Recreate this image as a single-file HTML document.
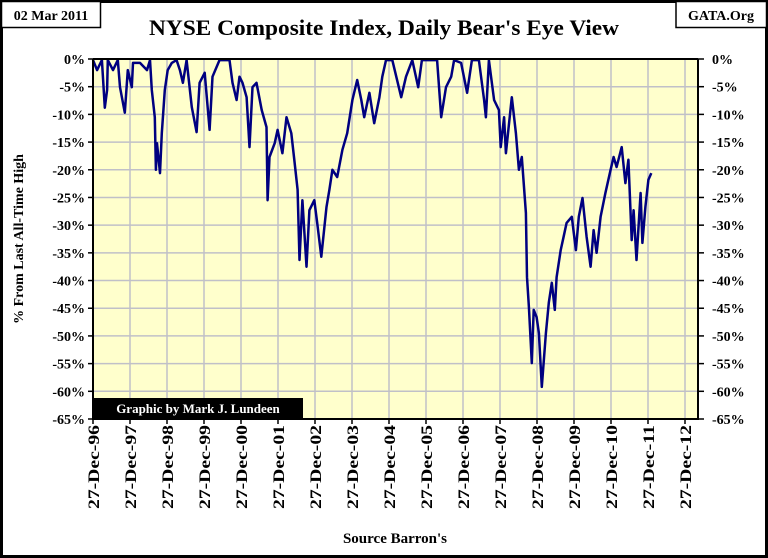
<!DOCTYPE html>
<html><head><meta charset="utf-8"><style>
html,body{margin:0;padding:0;background:#fff}
svg{display:block;font-family:"Liberation Serif",serif}
</style></head><body>
<svg width="768" height="558" viewBox="0 0 768 558">
<rect x="1.5" y="1.5" width="765" height="555" fill="#fff" stroke="#000" stroke-width="3"/>
<rect x="1.5" y="1.5" width="99" height="26" fill="#fff" stroke="#000" stroke-width="1.5"/>
<text x="51" y="20" text-anchor="middle" font-size="14" font-weight="bold">02 Mar 2011</text>
<rect x="676" y="1.5" width="90.5" height="26" fill="#fff" stroke="#000" stroke-width="1.5"/>
<text x="721" y="20" text-anchor="middle" font-size="14" font-weight="bold">GATA.Org</text>
<text x="384" y="35" text-anchor="middle" font-size="22" font-weight="bold" textLength="470" lengthAdjust="spacingAndGlyphs">NYSE Composite Index, Daily Bear's Eye View</text>
<rect x="93" y="59" width="605" height="360" fill="#ffffcc"/>
<g id="grid"></g>
<g id="series"></g>
<rect x="93" y="398" width="210" height="21" fill="#000"/>
<text x="198" y="413" text-anchor="middle" font-size="13" font-weight="bold" fill="#fff">Graphic by Mark J. Lundeen</text>
<g id="axes"></g>
<text transform="translate(23,239) rotate(-90)" text-anchor="middle" font-size="14" font-weight="bold">% From Last All-Time High</text>
<text x="395" y="543" text-anchor="middle" font-size="15" font-weight="bold">Source Barron's</text>
</svg>
<script>
const yTicks = [0,-5,-10,-15,-20,-25,-30,-35,-40,-45,-50,-55,-60,-65];
const xLabels = ["27-Dec-96","27-Dec-97","27-Dec-98","27-Dec-99","27-Dec-00","27-Dec-01","27-Dec-02","27-Dec-03","27-Dec-04","27-Dec-05","27-Dec-06","27-Dec-07","27-Dec-08","27-Dec-09","27-Dec-10","27-Dec-11","27-Dec-12"];
// years since 27-Dec-96
const yearsOffset = [0.00,0.11,0.24,0.32,0.38,0.40,0.54,0.67,0.73,0.86,0.94,1.05,1.08,1.27,1.46,1.54,1.59,1.67,1.70,1.73,1.81,1.86,1.94,2.02,2.13,2.26,2.35,2.43,2.53,2.67,2.80,2.88,3.02,3.15,3.23,3.42,3.69,3.77,3.88,3.96,4.04,4.15,4.23,4.31,4.42,4.56,4.69,4.72,4.77,4.91,4.99,5.12,5.23,5.36,5.44,5.53,5.58,5.66,5.77,5.85,5.98,6.06,6.17,6.31,6.39,6.47,6.60,6.74,6.87,7.01,7.14,7.25,7.33,7.47,7.60,7.74,7.82,7.92,8.09,8.33,8.46,8.63,8.79,8.89,9.30,9.41,9.54,9.68,9.76,9.95,10.11,10.24,10.43,10.57,10.62,10.70,10.84,10.97,11.02,11.11,11.16,11.32,11.43,11.51,11.59,11.70,11.73,11.78,11.86,11.91,11.99,12.05,12.13,12.24,12.32,12.40,12.48,12.53,12.64,12.72,12.80,12.94,13.05,13.13,13.23,13.34,13.45,13.53,13.61,13.72,13.85,13.99,14.07,14.15,14.29,14.39,14.47,14.56,14.61,14.69,14.80,14.85,14.93,15.01,15.09];
const pctFromHigh = [-0.2,-2.0,-0.2,-8.8,-5.6,-0.2,-2.0,-0.2,-5.1,-9.7,-2.0,-5.1,-0.7,-0.7,-2.0,-0.2,-5.6,-10.5,-20.0,-15.2,-20.6,-13.4,-5.6,-2.0,-0.7,-0.2,-2.0,-4.3,-0.2,-8.7,-13.2,-4.3,-2.5,-12.8,-3.2,-0.2,-0.2,-4.3,-7.4,-3.2,-4.3,-6.9,-15.9,-5.1,-4.3,-9.2,-12.3,-25.5,-17.7,-15.2,-12.8,-17.0,-10.5,-13.4,-18.2,-23.6,-36.3,-25.5,-37.5,-27.3,-25.5,-29.6,-35.7,-26.7,-23.6,-20.0,-21.3,-16.4,-13.4,-7.4,-3.8,-7.4,-10.5,-6.1,-11.6,-6.9,-3.2,-0.2,-0.2,-6.9,-3.2,-0.2,-5.1,-0.2,-0.2,-10.5,-5.1,-3.2,-0.2,-0.7,-6.1,-0.2,-0.2,-7.4,-10.5,-0.2,-7.4,-9.2,-15.9,-10.5,-17.0,-6.9,-13.4,-20.0,-17.7,-27.8,-39.4,-44.8,-54.9,-45.3,-46.6,-49.5,-59.2,-49.5,-44.0,-40.4,-45.3,-39.4,-34.5,-32.1,-29.6,-28.5,-34.5,-28.5,-25.1,-32.1,-37.5,-30.9,-35.0,-28.5,-24.2,-20.0,-17.7,-19.5,-15.9,-22.4,-18.2,-32.7,-27.3,-36.3,-24.2,-33.2,-26.7,-21.8,-20.6];

const NS="http://www.w3.org/2000/svg";
const X0=93,X1=698,Y0=59,Y1=419;
function xScale(t){return X0+t*37.0;}
function yScale(v){return Y0+(0-v)/65*(Y1-Y0);}
function mk(tag,attrs,parent){const e=document.createElementNS(NS,tag);for(const k in attrs)e.setAttribute(k,attrs[k]);parent.appendChild(e);return e;}
const gridG=document.getElementById('grid'),axesG=document.getElementById('axes'),seriesG=document.getElementById('series');
yTicks.forEach((v,i)=>{
  const y=yScale(v);
  if(i>0&&i<yTicks.length-1){const g=mk('line',{x1:X0,x2:X1,y1:y,y2:y,stroke:'#c0c0c8','stroke-width':1.5},gridG);
  
  }
  const l=mk('line',{x1:X0-5,x2:X0,y1:y,y2:y,stroke:'#000','stroke-width':1.5},axesG);
  
  
  const r=mk('line',{x1:X1,x2:X1+6,y1:y,y2:y,stroke:'#000','stroke-width':1.5},axesG);
  
  
  const tl=mk('text',{x:X0-8,y:y+5,'text-anchor':'end','font-size':14,'font-weight':'bold'},axesG);
  tl.textContent=v+'%';
  
  
  const tr=mk('text',{x:X1+14,y:y+5,'text-anchor':'start','font-size':14,'font-weight':'bold'},axesG);
  tr.textContent=v+'%';
  
  
});
xLabels.forEach((lab,i)=>{
  const x=xScale(i);
  if(i>0){const g=mk('line',{x1:x,x2:x,y1:Y0,y2:Y1,stroke:'#c0c0c8','stroke-width':1.5},gridG);
  
  }
  const t=mk('line',{x1:x,x2:x,y1:Y1,y2:Y1+5,stroke:'#000','stroke-width':1.5},axesG);
  
  
  const tx=mk('text',{transform:'translate('+(x+6)+','+(Y1+6)+') rotate(-90)','text-anchor':'end','font-size':16,'font-weight':'bold',textLength:84,lengthAdjust:'spacingAndGlyphs'},axesG);
  tx.textContent=lab;
  
  
});
const axisPath=mk('path',{d:'M'+X0+' '+Y0+' V'+Y1+' H'+X1+' V'+Y0,fill:'none',stroke:'#000','stroke-width':2},axesG);


const topBorder=mk('line',{x1:X0,x2:X1,y1:Y0,y2:Y0,stroke:'#000','stroke-width':2},axesG);


let pathD='';
yearsOffset.forEach((t,i)=>{pathD+=(i?'L':'M')+xScale(t).toFixed(1)+' '+yScale(pctFromHigh[i]).toFixed(1)+' ';});
const seriesPath=mk('path',{d:pathD,fill:'none',stroke:'#000080','stroke-width':2.5,'stroke-linejoin':'round'},seriesG);


</script>
</body></html>
